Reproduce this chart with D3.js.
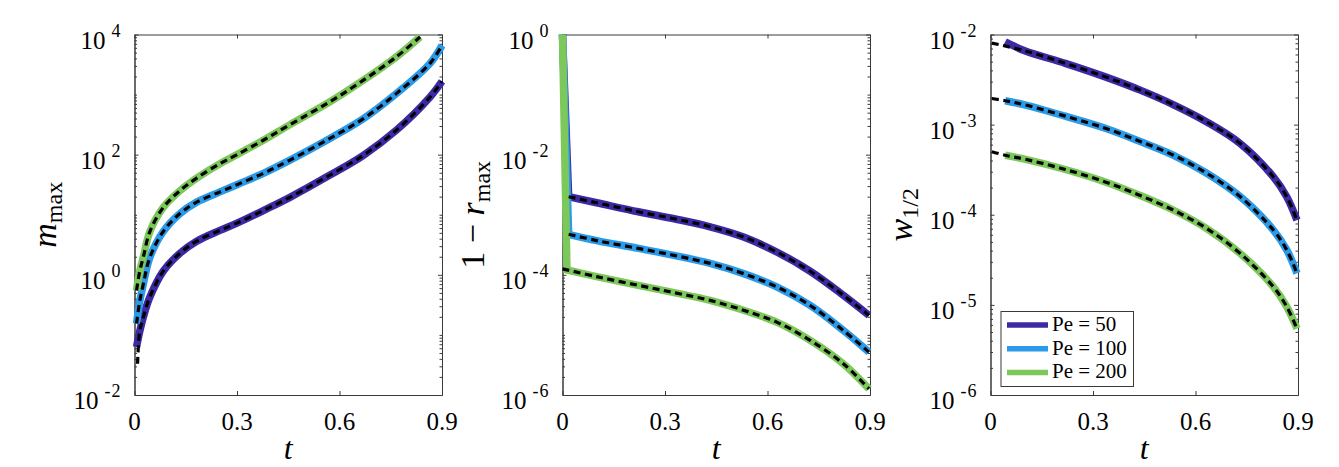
<!DOCTYPE html>
<html>
<head>
<meta charset="utf-8">
<script src="https://cdn.jsdelivr.net/npm/d3@7"></script>
</head>
<body style="margin:0;background:#fff">
<svg id="fig" width="1339" height="467"></svg>
<script>
// ---- data (values are log10 of the quantity) ----
var xTicks = [0, 0.3, 0.6, 0.9];
var xTickLabels = ["0", "0.3", "0.6", "0.9"];
var peLabels = ["Pe = 50", "Pe = 100", "Pe = 200"];
var peColors = ["#3c2aa4", "#2b9be9", "#7cc85a"];

// panel 1 : m_max
var yExp1 = [-2, 0, 2, 4];
var t1 = [0.006, 0.015, 0.026, 0.045, 0.084, 0.133, 0.182, 0.25, 0.3, 0.377, 0.455, 0.572, 0.67, 0.767, 0.865, 0.9];
var t1g = [0.006, 0.015, 0.026, 0.045, 0.084, 0.133, 0.182, 0.25, 0.3, 0.377, 0.455, 0.572, 0.67, 0.767, 0.836];
var mMax50 = [-1.2, -0.95, -0.70, -0.37, 0.06, 0.36, 0.56, 0.74, 0.86, 1.07, 1.29, 1.66, 1.99, 2.41, 2.96, 3.22];
var mMax100 = [-0.81, -0.45, -0.15, 0.29, 0.72, 1.02, 1.21, 1.38, 1.50, 1.69, 1.91, 2.27, 2.60, 3.02, 3.52, 3.82];
var mMax200 = [-0.26, 0.05, 0.30, 0.72, 1.12, 1.40, 1.61, 1.85, 2.0, 2.24, 2.50, 2.88, 3.24, 3.63, 3.96];
var mAsymStart50 = [0.009, -1.48];

// panel 2 : 1 - r_max
var yExp2 = [-6, -4, -2, 0];
var t2 = [0, 0.018, 0.1, 0.222, 0.33, 0.432, 0.53, 0.627, 0.725, 0.822, 0.897];
var t2g = [0, 0.013, 0.1, 0.222, 0.33, 0.432, 0.53, 0.627, 0.725, 0.822, 0.897];
var rMax50 = [0, -2.70, -2.80, -2.95, -3.07, -3.20, -3.37, -3.62, -3.94, -4.34, -4.675];
var rMax100 = [0, -3.325, -3.43, -3.56, -3.68, -3.81, -3.98, -4.2, -4.51, -4.925, -5.287];
var rMax200 = [0, -3.92, -4.03, -4.175, -4.30, -4.425, -4.59, -4.787, -5.09, -5.48, -5.897];
var rAsymStart200 = [0, -3.90];

// panel 3 : w_1/2
var yExp3 = [-6, -5, -4, -3, -2];
var t3 = [0.043, 0.1, 0.219, 0.336, 0.44, 0.536, 0.633, 0.731, 0.828, 0.867, 0.897];
var w50 = [-2.08, -2.18, -2.32, -2.47, -2.62, -2.78, -2.97, -3.21, -3.58, -3.80, -4.06];
var w100 = [-2.735, -2.78, -2.906, -3.04, -3.19, -3.34, -3.54, -3.80, -4.17, -4.39, -4.65];
var w200 = [-3.34, -3.383, -3.498, -3.636, -3.79, -3.95, -4.153, -4.43, -4.80, -5.02, -5.264];
var wAsymStart = [[0.004, -2.095], [0.004, -2.71], [0.004, -3.30]];

// ---- build panel tables ----
function zip(t, v) { return t.map(function(d, i) { return [d, v[i]]; }); }

var panels = [
  {
    left: 134.5, exps: yExp1, label: "m", spike: false,
    solid: [zip(t1, mMax50), zip(t1, mMax100), zip(t1g, mMax200)],
    dashed: [[mAsymStart50].concat(zip(t1, mMax50).slice(1)), zip(t1, mMax100), zip(t1g, mMax200)]
  },
  {
    left: 562.5, exps: yExp2, label: "r", spike: true,
    solid: [zip(t2, rMax50), zip(t2, rMax100), zip(t2g, rMax200)],
    dashed: [zip(t2, rMax50).slice(1), zip(t2, rMax100).slice(1), [rAsymStart200].concat(zip(t2g, rMax200).slice(2))]
  },
  {
    left: 990.5, exps: yExp3, label: "w", spike: false,
    solid: [zip(t3, w50), zip(t3, w100), zip(t3, w200)],
    dashed: [[wAsymStart[0]].concat(zip(t3, w50).slice(1)), [wAsymStart[1]].concat(zip(t3, w100)), [wAsymStart[2]].concat(zip(t3, w200))]
  }
];

var plotW = 307.5, plotTop = 34.5, plotBottom = 395, plotH = plotBottom - plotTop;
var axisColor = "#3a3a3a";
var svg = d3.select("#fig");

function label(sel, size) {
  return sel.style("font-family", "'Liberation Serif'").style("font-size", size + "px").attr("fill", "#000");
}

panels.forEach(function(p, pi) {
  var lo = d3.min(p.exps), hi = d3.max(p.exps);
  var x = d3.scaleLinear().domain([0, 0.9]).range([0, plotW]);
  var y = d3.scaleLog().domain([Math.pow(10, lo), Math.pow(10, hi)]).range([plotH, 0]);

  var g = svg.append("g").attr("transform", "translate(" + p.left + "," + plotTop + ")");

  // minor log ticks
  var minor = [];
  for (var k = lo; k < hi; k++) {
    for (var m = 1; m <= 9; m++) {
      if (m === 1 && p.exps.indexOf(k) >= 0) continue;
      minor.push(m * Math.pow(10, k));
    }
  }
  var majorY = p.exps.map(function(e) { return Math.pow(10, e); });

  function styleAxis(sel) {
    sel.select(".domain").attr("stroke", axisColor).attr("stroke-width", 1);
    sel.selectAll(".tick line").attr("stroke", axisColor).attr("stroke-width", 1);
    sel.selectAll(".tick text").remove();
  }

  g.append("g").attr("transform", "translate(0," + plotH + ")")
    .call(d3.axisBottom(x).tickValues(xTicks).tickSizeInner(-4).tickSizeOuter(0).tickFormat(""))
    .call(styleAxis);
  g.append("g")
    .call(d3.axisTop(x).tickValues(xTicks).tickSizeInner(-4).tickSizeOuter(0).tickFormat(""))
    .call(styleAxis);
  g.append("g")
    .call(d3.axisLeft(y).tickValues(majorY).tickSizeInner(-4).tickSizeOuter(0).tickFormat(""))
    .call(styleAxis);
  g.append("g").attr("transform", "translate(" + plotW + ",0)")
    .call(d3.axisRight(y).tickValues(majorY).tickSizeInner(-4).tickSizeOuter(0).tickFormat(""))
    .call(styleAxis);
  g.append("g")
    .call(d3.axisLeft(y).tickValues(minor).tickSizeInner(-2.5).tickSizeOuter(0).tickFormat(""))
    .call(styleAxis);
  g.append("g").attr("transform", "translate(" + plotW + ",0)")
    .call(d3.axisRight(y).tickValues(minor).tickSizeInner(-2.5).tickSizeOuter(0).tickFormat(""))
    .call(styleAxis);

  // x tick labels
  g.selectAll(".xlab").data(xTicks).enter().append("text")
    .attr("x", function(d) { return x(d); })
    .attr("y", plotH + 35)
    .attr("text-anchor", "middle")
    .call(label, 25)
    .text(function(d, i) { return xTickLabels[i]; });

  // y tick labels 10^e
  p.exps.forEach(function(e) {
    var tx = g.append("text")
      .attr("x", -13)
      .attr("y", y(Math.pow(10, e)) + 14)
      .attr("text-anchor", "end")
      .call(label, 25);
    tx.append("tspan").text("10");
    tx.append("tspan").attr("dx", 6).attr("dy", -12)
      .style("font-size", "18px").style("letter-spacing", "1px").text(String(e));
  });

  // curves
  var smooth = d3.line()
    .x(function(d) { return x(d[0]); })
    .y(function(d) { return y(Math.pow(10, d[1])); })
    .curve(d3.curveCatmullRom.alpha(0.5));
  var straight = d3.line()
    .x(function(d) { return x(d[0]); })
    .y(function(d) { return y(Math.pow(10, d[1])); });

  p.solid.forEach(function(s, i) {
    var d = p.spike
      ? straight(s.slice(0, 2)) + smooth(s.slice(1)).replace(/^M/, "L")
      : smooth(s);
    g.append("path").attr("d", d)
      .attr("fill", "none").attr("stroke", peColors[i])
      .attr("stroke-width", 7.5);
  });
  p.dashed.forEach(function(s) {
    g.append("path").attr("d", smooth(s))
      .attr("fill", "none").attr("stroke", "#000")
      .attr("stroke-width", 3.2).attr("stroke-dasharray", "7,4.5");
  });

  // axis labels
  g.append("text")
    .attr("x", plotW / 2).attr("y", plotH + 64)
    .attr("text-anchor", "middle")
    .call(label, 32).style("font-style", "italic")
    .text("t");

  var yl = g.append("text")
    .attr("transform", "translate(-79," + (plotH / 2) + ") rotate(-90)")
    .attr("text-anchor", "middle")
    .call(label, 34);
  if (p.label === "m") {
    yl.append("tspan").style("font-style", "italic").text("m");
    yl.append("tspan").attr("dy", 6).style("font-size", "24px").text("max");
  } else if (p.label === "r") {
    yl.append("tspan").text("1 \u2212 ");
    yl.append("tspan").style("font-style", "italic").text("r");
    yl.append("tspan").attr("dy", 6).style("font-size", "24px").text("max");
  } else {
    yl.append("tspan").style("font-style", "italic").text("w");
    yl.append("tspan").attr("dy", 6).style("font-size", "24px").text("1/2");
  }

  // legend in last panel
  if (pi === 2) {
    var lg = g.append("g").attr("transform", "translate(10.5," + (311.5 - plotTop) + ")");
    lg.append("rect").attr("width", 132.5).attr("height", 75)
      .attr("fill", "#fff").attr("stroke", axisColor).attr("stroke-width", 1);
    peLabels.forEach(function(lab, i) {
      var cy = 13.5 + i * 23.7;
      lg.append("line").attr("x1", 6).attr("x2", 47).attr("y1", cy).attr("y2", cy)
        .attr("stroke", peColors[i]).attr("stroke-width", 5.5);
      lg.append("text").attr("x", 51).attr("y", cy + 6)
        .call(label, 21).text(lab);
    });
  }
});
</script>
</body>
</html>
